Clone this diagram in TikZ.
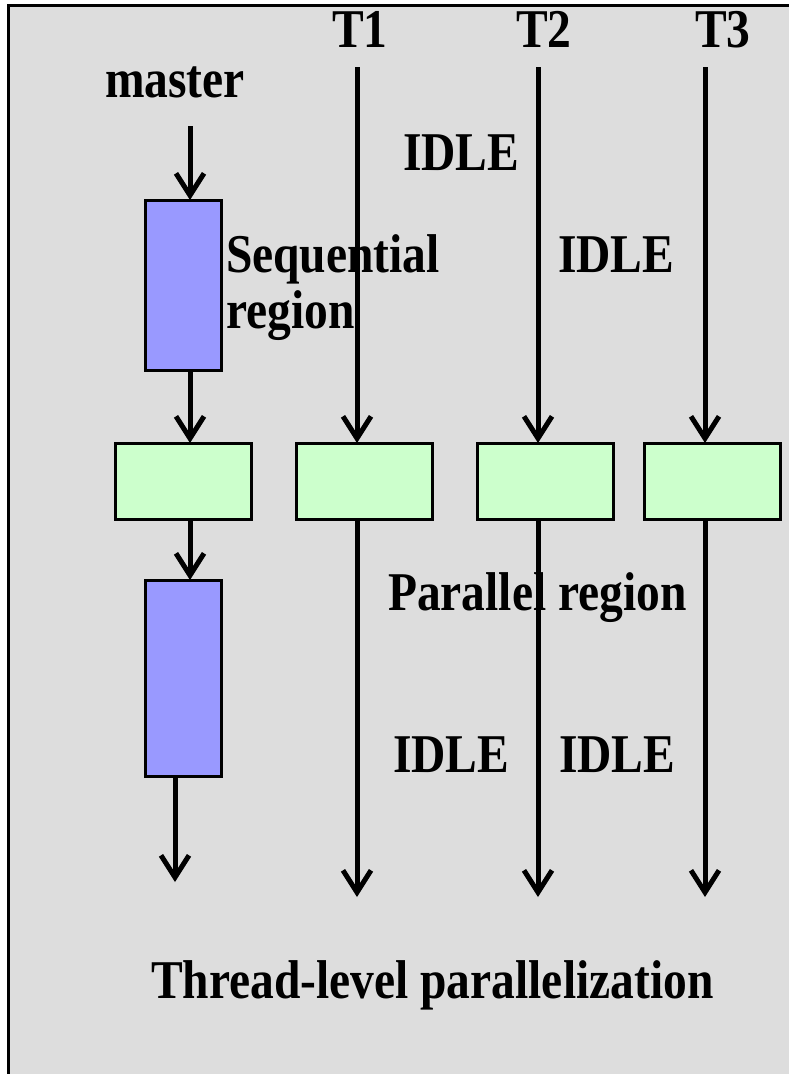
\documentclass[tikz,border=0pt]{standalone}
\usepackage{fontspec}
\usepackage{graphicx}
\setmainfont{Liberation Serif}
\usetikzlibrary{arrows.meta}
\definecolor{bgray}{HTML}{DDDDDD}
\definecolor{seqblue}{HTML}{9999FF}
\definecolor{pargreen}{HTML}{CCFFCC}
\newcommand{\tallt}[1]{\scalebox{1}[1.15]{#1}}
\begin{document}
\begin{tikzpicture}[x=1pt,y=-1pt,
  lbl/.style={inner sep=0pt,outer sep=0pt,anchor=base west,font=\fontsize{47.5}{50}\selectfont\bfseries},
  seqbox/.style={draw=black,line width=3pt,fill=seqblue,minimum width=76pt,minimum height=170pt,inner sep=0pt,outer sep=0pt},
  parbox/.style={draw=black,line width=3pt,fill=pargreen,minimum width=136pt,minimum height=76pt,inner sep=0pt,outer sep=0pt},
  arr/.style={line width=5pt,-{Straight Barb[length=22pt,width=28pt,line width=5pt]}},
  ln/.style={line width=5pt}]
\useasboundingbox (0,0) rectangle (788,1074);
\fill[white] (0,0) rectangle (788,1074);
\draw[line width=3pt,fill=bgray] (8,5) rectangle (810,1100);
% labels
\node[lbl] (master) at (105,97) {\tallt{master}};
\node[lbl] (t1l) at (332,47) {\tallt{T1}};
\node[lbl] (t2l) at (516,47) {\tallt{T2}};
\node[lbl] (t3l) at (695,47) {\tallt{T3}};
% boxes
\node[seqbox] (b1) at (183,285) {};
\node[seqbox,minimum height=196pt] (b2) at (183,678) {};
\node[parbox] (g1) at (183,481) {};
\node[parbox] (g2) at (364,481) {};
\node[parbox] (g3) at (545,481) {};
\node[parbox] (g4) at (712.5,481) {};
% coordinates
\coordinate (m0) at (190,126);
\coordinate (mend) at (175,882);
\coordinate (t1s) at (357,67);
\coordinate (t2s) at (538,67);
\coordinate (t3s) at (705,67);
\coordinate (t1e) at (357,897);
\coordinate (t2e) at (538,897);
\coordinate (t3e) at (705,897);
% master arrows
\draw[arr] (m0) -- (b1.north -| m0);
\draw[arr] (b1.south -| m0) -- (g1.north -| m0);
\draw[arr] (g1.south -| m0) -- (b2.north -| m0);
\draw[arr] (b2.south -| mend) -- (mend);
% thread arrows
\draw[arr] (t1s) -- (g2.north -| t1s);
\draw[arr] (t2s) -- (g3.north -| t2s);
\draw[arr] (t3s) -- (g4.north -| t3s);
\draw[arr] (g2.south -| t1e) -- (t1e);
\draw[arr] (g3.south -| t2e) -- (t2e);
\draw[arr] (g4.south -| t3e) -- (t3e);
% texts over lines
\node[lbl] (idle1) at (403,170) {\tallt{IDLE}};
\node[lbl] (seq) at (226,272) {\tallt{Sequential}};
\node[lbl] (reg) at (226,328) {\tallt{region}};
\node[lbl] (idle2) at (558,272) {\tallt{IDLE}};
\node[lbl] (par) at (388,610) {\tallt{Parallel region}};
\node[lbl] (idle3) at (393,772) {\tallt{IDLE}};
\node[lbl] (idle4) at (559,772) {\tallt{IDLE}};
\node[lbl] (title) at (151,998) {\tallt{Thread-level parallelization}};
% lines drawn over text as in the reference
\draw[ln] (357,230) -- (357,340);
\draw[ln] (538,560) -- (538,620);
\end{tikzpicture}
\end{document}
